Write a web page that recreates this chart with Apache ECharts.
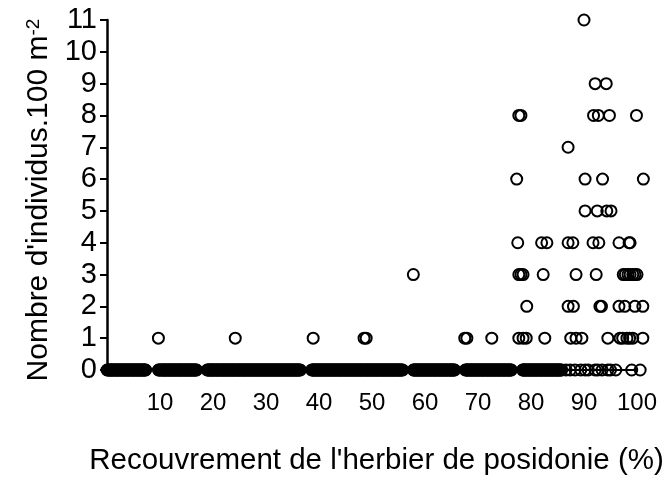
<!DOCTYPE html>
<html>
<head>
<meta charset="utf-8">
<script src="https://cdn.jsdelivr.net/npm/echarts@6/dist/echarts.min.js"></script>
<style>
  html, body { margin: 0; padding: 0; background: #fff; }
  #chart { width: 667px; height: 481px; }
</style>
</head>
<body>
<div id="chart"></div>
<script>
// Seagrass cover (%) of each survey site, grouped by the fish count recorded there (individuals per 100 m2)
const coverCount0 = [
  0.0, 0.2, 0.3, 0.5, 0.6, 0.8, 0.9, 1.0, 1.2, 1.3, 1.5, 1.6, 1.8, 1.9, 2.0, 2.2, 2.3, 2.5, 2.6, 2.8, 2.9,
  3.0, 3.2, 3.3, 3.5, 3.6, 3.8, 3.9, 4.0, 4.2, 4.3, 4.5, 4.6, 4.8, 4.9, 5.0, 5.2, 5.3, 5.5, 5.6, 5.8, 5.9,
  6.0, 6.2, 6.3, 6.5, 6.6, 6.8, 6.9, 7.0, 7.2, 7.3,
  9.7, 9.8, 10.0, 10.2, 10.3, 10.5, 10.6, 10.8, 10.9, 11.0, 11.2, 11.3, 11.5, 11.6, 11.8, 11.9,
  12.0, 12.2, 12.3, 12.5, 12.6, 12.8, 12.9, 13.0, 13.2, 13.3, 13.5, 13.6, 13.8, 13.9, 14.0, 14.2, 14.3, 14.5, 14.6, 14.8, 14.9,
  15.0, 15.2, 15.3, 15.5, 15.6, 15.8, 15.9, 16.0, 16.2, 16.3, 16.5, 16.6, 16.8, 16.9,
  18.9, 19.0, 19.2, 19.3, 19.5, 19.6, 19.8, 19.9, 20.0, 20.2, 20.3, 20.5, 20.6, 20.8, 20.9, 21.0, 21.2, 21.3, 21.5, 21.6, 21.8, 21.9,
  22.0, 22.2, 22.3, 22.5, 22.6, 22.8, 22.9, 23.0, 23.2, 23.3, 23.5, 23.6, 23.8, 23.9, 24.0, 24.2, 24.3, 24.5, 24.6, 24.8, 24.9,
  25.0, 25.2, 25.3, 25.5, 25.6, 25.8, 25.9, 26.0, 26.2, 26.3, 26.5, 26.6, 26.8, 26.9, 27.0, 27.2, 27.3, 27.5, 27.6, 27.8, 27.9,
  28.0, 28.2, 28.3, 28.5, 28.6, 28.8, 28.9, 29.0, 29.2, 29.3, 29.5, 29.6, 29.8, 29.9, 30.0, 30.2, 30.3, 30.5, 30.6, 30.8, 30.9,
  31.0, 31.2, 31.3, 31.5, 31.6, 31.8, 31.9, 32.0, 32.2, 32.3, 32.5, 32.6, 32.8, 32.9, 33.0, 33.2, 33.3, 33.5, 33.6, 33.8, 33.9,
  34.0, 34.2, 34.3, 34.5, 34.6, 34.8, 34.9, 35.0, 35.2, 35.3, 35.5, 35.6, 35.8, 35.9, 36.0, 36.2, 36.3, 36.5,
  38.6, 38.8, 38.9, 39.0, 39.2, 39.3, 39.5, 39.6, 39.8, 39.9, 40.0, 40.2, 40.3, 40.5, 40.6, 40.8, 40.9,
  41.0, 41.2, 41.3, 41.5, 41.6, 41.8, 41.9, 42.0, 42.2, 42.3, 42.5, 42.6, 42.8, 42.9, 43.0, 43.2, 43.3, 43.5, 43.6, 43.8, 43.9,
  44.0, 44.2, 44.3, 44.5, 44.6, 44.8, 44.9, 45.0, 45.2, 45.3, 45.5, 45.6, 45.8, 45.9, 46.0, 46.2, 46.3, 46.5, 46.6, 46.8, 46.9,
  47.0, 47.2, 47.3, 47.5, 47.6, 47.8, 47.9, 48.0, 48.2, 48.3, 48.5, 48.6, 48.8, 48.9, 49.0, 49.2, 49.3, 49.5, 49.6, 49.8, 49.9,
  50.0, 50.2, 50.3, 50.5, 50.6, 50.8, 50.9, 51.0, 51.2, 51.3, 51.5, 51.6, 51.8, 51.9, 52.0, 52.2, 52.3, 52.5, 52.6, 52.8, 52.9,
  53.0, 53.2, 53.3, 53.5, 53.6, 53.8, 53.9, 54.0, 54.2, 54.3, 54.5, 54.6, 54.8, 54.9, 55.0, 55.2, 55.3, 55.5, 55.6, 55.8,
  57.8, 57.9, 58.0, 58.2, 58.3, 58.5, 58.6, 58.8, 58.9, 59.0, 59.2, 59.3, 59.5, 59.6, 59.8, 59.9,
  60.0, 60.2, 60.3, 60.5, 60.6, 60.8, 60.9, 61.0, 61.2, 61.3, 61.5, 61.6, 61.8, 61.9, 62.0, 62.2, 62.3, 62.5, 62.6, 62.8, 62.9,
  63.0, 63.2, 63.3, 63.5, 63.6, 63.8, 63.9, 64.0, 64.2, 64.3, 64.5, 64.6, 64.8, 64.9, 65.0, 65.2, 65.3, 65.5, 65.6,
  67.6, 67.8, 67.9, 68.0, 68.2, 68.3, 68.5, 68.6, 68.8, 68.9, 69.0, 69.2, 69.3, 69.5, 69.6, 69.8, 69.9,
  70.0, 70.2, 70.3, 70.5, 70.6, 70.8, 70.9, 71.0, 71.2, 71.3, 71.5, 71.6, 71.8, 71.9, 72.0, 72.2, 72.3, 72.5, 72.6, 72.8, 72.9,
  73.0, 73.2, 73.3, 73.5, 73.6, 73.8, 73.9, 74.0, 74.2, 74.3, 74.5, 74.6, 74.8, 74.9, 75.0, 75.2, 75.3, 75.5, 75.6, 75.8, 75.9,
  76.0, 76.2, 76.3,
  78.4, 78.5, 78.6, 78.8, 78.9, 79.0, 79.2, 79.3, 79.5, 79.6, 79.8, 79.9, 80.0, 80.2, 80.3, 80.5, 80.6, 80.8, 80.9,
  81.0, 81.2, 81.3, 81.5, 81.6, 81.8, 81.9, 82.0, 82.2, 82.3, 82.5, 82.6, 82.8, 82.9, 83.0, 83.2, 83.3, 83.5, 83.6, 83.8, 83.9,
  84.0, 84.2, 84.3, 84.5, 84.6, 84.8, 84.9, 85.0, 85.2, 85.3, 85.5, 85.6, 85.8,
  86.6, 87.4, 88.3, 89.4, 90.2, 90.8, 92.1, 92.6, 93.4, 94.5, 95.0, 96.0, 99.0, 100.6
];
const coverCount1 = [9.7, 24.2, 38.9, 48.5, 48.9, 67.5, 67.9, 72.6, 77.7, 78.5, 79.1, 82.6, 87.5, 88.5, 89.6,
  94.5, 96.8, 97.3, 98.1, 98.6, 99.2, 101.1];
const coverCount2 = [79.2, 87.0, 88.0, 93.0, 93.3, 96.6, 97.7, 99.6, 101.1];
const coverCount3 = [57.8, 77.7, 78.1, 78.5, 82.3, 88.5, 92.3, 97.4, 97.8, 98.3, 98.7, 99.2, 99.6, 100.0];
const coverCount4 = [77.5, 82.0, 83.0, 87.0, 87.9, 91.7, 92.8, 96.6, 98.5, 98.7];
const coverCount5 = [90.2, 92.5, 94.3, 95.1];
const coverCount6 = [77.3, 90.2, 93.5, 101.2];
const coverCount7 = [87.0];
const coverCount8 = [77.7, 78.1, 91.8, 92.7, 94.8, 99.9];
const coverCount9 = [92.1, 94.2];
const coverCount11 = [90.0];

const countGroups = [
  [0, coverCount0], [1, coverCount1], [2, coverCount2], [3, coverCount3], [4, coverCount4],
  [5, coverCount5], [6, coverCount6], [7, coverCount7], [8, coverCount8], [9, coverCount9],
  [11, coverCount11]
];

const xTicks = [10, 20, 30, 40, 50, 60, 70, 80, 90, 100];

const points = [];
countGroups.forEach(([count, covers]) => {
  covers.forEach(c => points.push([c, count]));
});

const FONT = 'Liberation Sans, Arial, sans-serif';

const chart = echarts.init(document.getElementById('chart'), null, { renderer: 'canvas' });
chart.setOption({
  animation: false,
  backgroundColor: '#fff',
  grid: { left: 107, right: 30, top: 20, bottom: 100, containLabel: false },
  xAxis: {
    type: 'value',
    min: 0,
    max: 100,
    interval: 10,
    name: 'Recouvrement de l\'herbier de posidonie (%)',
    nameLocation: 'middle',
    nameGap: 76,
    nameTextStyle: { fontFamily: FONT, fontSize: 29.5, color: '#000', padding: [0, 0, 0, 9] },
    axisLine: { show: true, onZero: false, lineStyle: { color: '#000', width: 2 } },
    axisTick: { show: false },
    splitLine: { show: false },
    axisLabel: {
      margin: 21,
      fontFamily: FONT,
      fontSize: 24,
      color: '#000',
      formatter: v => (xTicks.indexOf(v) >= 0 ? String(v) : '')
    }
  },
  yAxis: {
    type: 'value',
    min: 0,
    max: 11,
    interval: 1,
    name: 'Nombre d\'individus.100 m{sup|-2}',
    nameLocation: 'middle',
    nameGap: 52,
    nameRotate: 90,
    nameTextStyle: {
      fontFamily: FONT, fontSize: 30, color: '#000',
      padding: [0, 10, 0, 0],
      rich: { sup: { fontFamily: FONT, fontSize: 19, color: '#000', verticalAlign: 'top', padding: [0, 0, 10, 0] } }
    },
    axisLine: { show: true, onZero: false, lineStyle: { color: '#000', width: 2.5 } },
    axisTick: { show: true, inside: false, length: 7, lineStyle: { color: '#000', width: 2 } },
    splitLine: { show: false },
    axisLabel: { margin: 10, fontFamily: FONT, fontSize: 29, color: '#000' }
  },
  series: [{
    type: 'scatter',
    clip: false,
    symbol: 'circle',
    symbolSize: 11,
    itemStyle: { color: 'rgba(0,0,0,0)', borderColor: '#000', borderWidth: 2, opacity: 1 },
    emphasis: { disabled: true },
    data: points
  }]
});
</script>
</body>
</html>
